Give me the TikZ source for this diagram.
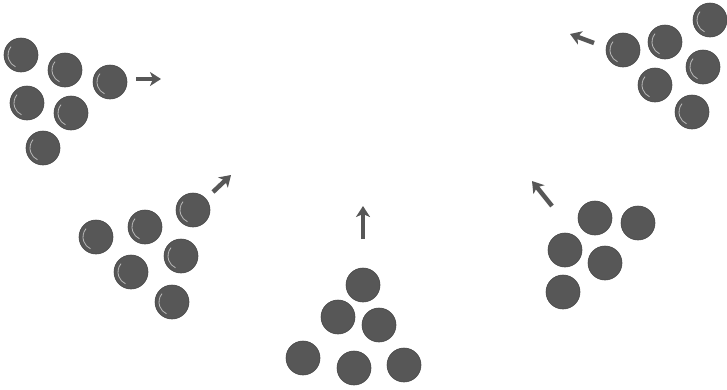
\documentclass[tikz,border=0pt]{standalone}
\usepackage{xcolor}
\usepackage{tikz}
\usetikzlibrary{arrows.meta}

\definecolor{ballgray}{HTML}{575757}

\begin{document}
\begin{tikzpicture}[
    x=1pt, y=-1pt,
    ball/.style={circle, fill=ballgray, draw=ballgray!80!black, line width=0.6pt, minimum size=34pt, inner sep=0pt},
    shiny/.style={ball, path picture={
        \draw[white!45!gray, line width=0.8pt]
            (path picture bounding box.center) ++(140:13pt) arc (140:245:13pt);}},
    move/.style={line width=4.5pt, ballgray, -{Stealth[length=11pt, width=14pt, inset=3pt]}}
]
    \useasboundingbox (0,0) rectangle (727,389);

    % Upper left group, moving right
    \node[shiny] (ul1) at (21,55) {};
    \node[shiny] (ul2) at (65,70) {};
    \node[shiny] (ul3) at (110,82) {};
    \node[shiny] (ul4) at (27,103) {};
    \node[shiny] (ul5) at (71,113) {};
    \node[shiny] (ul6) at (43,148) {};
    \coordinate (ulTail) at (136,79);
    \coordinate (ulHead) at (161,79);

    % Upper right group, moving left
    \node[shiny] (ur1) at (623,50) {};
    \node[shiny] (ur2) at (665,42) {};
    \node[shiny] (ur3) at (710,20) {};
    \node[shiny] (ur4) at (655,85) {};
    \node[shiny] (ur5) at (703,67) {};
    \node[shiny] (ur6) at (692,112) {};
    \coordinate (urTail) at (594,43);
    \coordinate (urHead) at (570,34);

    % Middle left group, moving up right
    \node[shiny] (ml1) at (96,237) {};
    \node[shiny] (ml2) at (145,227) {};
    \node[shiny] (ml3) at (193,210) {};
    \node[shiny] (ml4) at (131,272) {};
    \node[shiny] (ml5) at (181,256) {};
    \node[shiny] (ml6) at (172,302) {};
    \coordinate (mlTail) at (213,192);
    \coordinate (mlHead) at (231,175);

    % Bottom group, moving up
    \node[ball] (bc1) at (363,285) {};
    \node[ball] (bc2) at (338,317) {};
    \node[ball] (bc3) at (379,325) {};
    \node[ball] (bc4) at (303,358) {};
    \node[ball] (bc5) at (354,368) {};
    \node[ball] (bc6) at (404,365) {};
    \coordinate (bcTail) at (363,239);
    \coordinate (bcHead) at (363,206);

    % Lower right group, moving up left
    \node[ball] (lr1) at (595,218) {};
    \node[ball] (lr2) at (638,223) {};
    \node[ball] (lr3) at (565,250) {};
    \node[ball] (lr4) at (605,263) {};
    \node[ball] (lr5) at (563,292) {};
    \coordinate (lrTail) at (552,206);
    \coordinate (lrHead) at (532,181);

    \draw[move] (ulTail) -- (ulHead);
    \draw[move] (urTail) -- (urHead);
    \draw[move] (mlTail) -- (mlHead);
    \draw[move] (bcTail) -- (bcHead);
    \draw[move] (lrTail) -- (lrHead);
\end{tikzpicture}
\end{document}
